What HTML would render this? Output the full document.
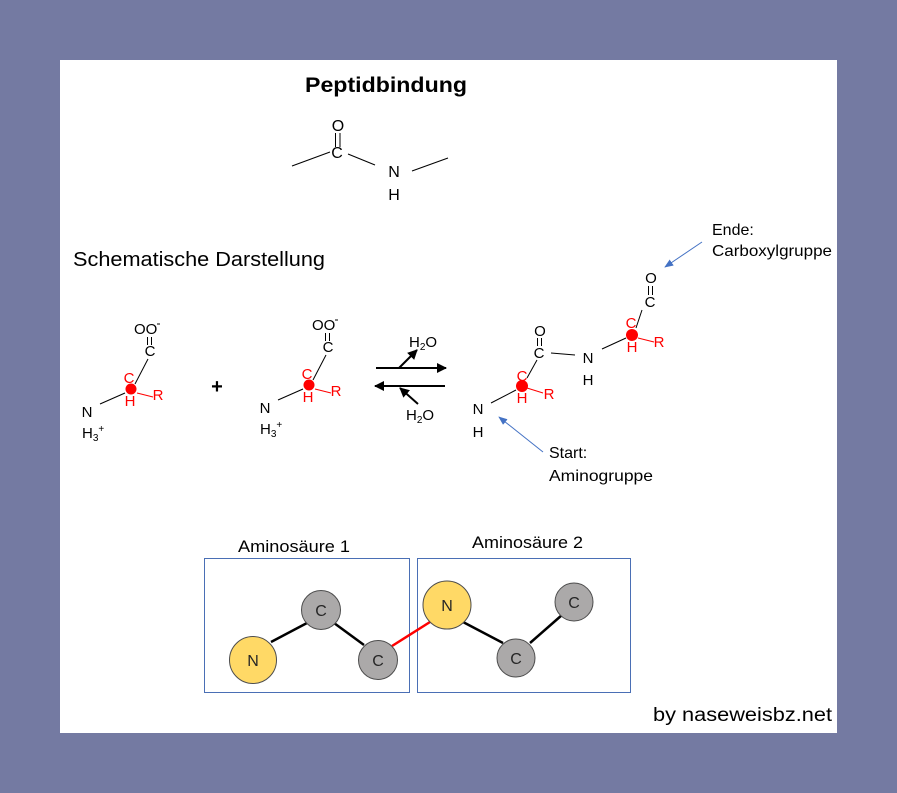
<!DOCTYPE html>
<html><head><meta charset="utf-8"><style>
html,body{margin:0;padding:0;background:#747aa2;}
svg{display:block;}
text{font-family:"Liberation Sans",sans-serif;}
</style></head><body>
<svg width="897" height="793" viewBox="0 0 897 793" xmlns="http://www.w3.org/2000/svg">
<defs>
<marker id="ab" viewBox="0 0 10 10" refX="9" refY="5" markerWidth="5" markerHeight="5" orient="auto"><path d="M0,0 L10,5 L0,10 z" fill="#000"/></marker>
<marker id="abl" viewBox="0 0 10 10" refX="9" refY="5" markerWidth="9" markerHeight="9" orient="auto"><path d="M0,1 L10,5 L0,9 z" fill="#4472c4"/></marker>
</defs>
<rect x="0" y="0" width="897" height="793" fill="#747aa2"/>
<rect x="60" y="60" width="777" height="673" fill="#fff"/>

<!-- Title -->
<text x="305" y="92" font-size="21" font-weight="bold" textLength="162" lengthAdjust="spacingAndGlyphs" fill="#000">Peptidbindung</text>

<!-- Peptide bond structure -->
<g font-size="16" fill="#000" text-anchor="middle">
<text x="338" y="131">O</text>
<text x="337" y="158">C</text>
<text x="394" y="177">N</text>
<text x="394" y="200">H</text>
</g>
<g stroke="#000" stroke-width="1">
<line x1="335.5" y1="133" x2="335.5" y2="147"/>
<line x1="340" y1="133" x2="340" y2="147"/>
<line x1="292" y1="166" x2="330" y2="152"/>
<line x1="348" y1="154" x2="375" y2="165"/>
<line x1="412" y1="171" x2="448" y2="158"/>
</g>

<text x="73" y="266" font-size="20" textLength="252" lengthAdjust="spacingAndGlyphs" fill="#000">Schematische Darstellung</text>

<!-- Amino acid 1 -->
<g id="aa1">
<text x="134" y="334" font-size="15" fill="#000">OO</text>
<line x1="157" y1="324" x2="160" y2="324" stroke="#000" stroke-width="1"/>
<g stroke="#000" stroke-width="1">
<line x1="147.5" y1="337" x2="147.5" y2="345"/>
<line x1="151.5" y1="337" x2="151.5" y2="345"/>
<line x1="148" y1="359" x2="135" y2="384"/>
<line x1="100" y1="404" x2="125" y2="393"/>
</g>
<text x="150" y="356" font-size="15" text-anchor="middle" fill="#000">C</text>
<text x="129" y="383" font-size="15" text-anchor="middle" fill="#ff0000">C</text>
<circle cx="131" cy="389" r="5.5" fill="#ff0000"/>
<text x="130" y="406" font-size="15" text-anchor="middle" fill="#ff0000">H</text>
<line x1="137" y1="393" x2="153" y2="397" stroke="#ff0000" stroke-width="1"/>
<text x="158" y="400" font-size="15" text-anchor="middle" fill="#ff0000">R</text>
<text x="87" y="417" font-size="15" text-anchor="middle" fill="#000">N</text>
<text x="82" y="438" font-size="15" fill="#000">H<tspan font-size="10" dy="3">3</tspan><tspan font-size="10" dy="-9">+</tspan></text>
</g>

<text x="217" y="393" font-size="20" font-weight="bold" text-anchor="middle" fill="#000">+</text>

<!-- Amino acid 2 -->
<g transform="translate(178,-4)">
<text x="134" y="334" font-size="15" fill="#000">OO</text>
<line x1="157" y1="324" x2="160" y2="324" stroke="#000" stroke-width="1"/>
<g stroke="#000" stroke-width="1">
<line x1="147.5" y1="337" x2="147.5" y2="345"/>
<line x1="151.5" y1="337" x2="151.5" y2="345"/>
<line x1="148" y1="359" x2="135" y2="384"/>
<line x1="100" y1="404" x2="125" y2="393"/>
</g>
<text x="150" y="356" font-size="15" text-anchor="middle" fill="#000">C</text>
<text x="129" y="383" font-size="15" text-anchor="middle" fill="#ff0000">C</text>
<circle cx="131" cy="389" r="5.5" fill="#ff0000"/>
<text x="130" y="406" font-size="15" text-anchor="middle" fill="#ff0000">H</text>
<line x1="137" y1="393" x2="153" y2="397" stroke="#ff0000" stroke-width="1"/>
<text x="158" y="400" font-size="15" text-anchor="middle" fill="#ff0000">R</text>
<text x="87" y="417" font-size="15" text-anchor="middle" fill="#000">N</text>
<text x="82" y="438" font-size="15" fill="#000">H<tspan font-size="10" dy="3">3</tspan><tspan font-size="10" dy="-9">+</tspan></text>
</g>

<!-- Equilibrium arrows -->
<g stroke="#000" stroke-width="2" fill="none">
<line x1="376" y1="368" x2="446" y2="368" marker-end="url(#ab)"/>
<line x1="399" y1="368" x2="417" y2="350" marker-end="url(#ab)"/>
<line x1="445" y1="386" x2="375" y2="386" marker-end="url(#ab)"/>
<line x1="418" y1="404" x2="400" y2="388" marker-end="url(#ab)"/>
</g>
<text x="409" y="347" font-size="15" fill="#000">H<tspan font-size="10" dy="3">2</tspan><tspan dy="-3">O</tspan></text>
<text x="406" y="420" font-size="15" fill="#000">H<tspan font-size="10" dy="3">2</tspan><tspan dy="-3">O</tspan></text>

<!-- Dipeptide -->
<g font-size="15" text-anchor="middle">
<text x="651" y="283" fill="#000">O</text>
<text x="650" y="307" fill="#000">C</text>
<text x="631" y="328" fill="#ff0000">C</text>
<text x="632" y="352" fill="#ff0000">H</text>
<text x="659" y="347" fill="#ff0000">R</text>
<text x="588" y="363" fill="#000">N</text>
<text x="588" y="385" fill="#000">H</text>
<text x="540" y="336" fill="#000">O</text>
<text x="539" y="358" fill="#000">C</text>
<text x="522" y="381" fill="#ff0000">C</text>
<text x="522" y="403" fill="#ff0000">H</text>
<text x="549" y="399" fill="#ff0000">R</text>
<text x="478" y="414" fill="#000">N</text>
<text x="478" y="437" fill="#000">H</text>
</g>
<g stroke="#000" stroke-width="1">
<line x1="648.5" y1="286" x2="648.5" y2="295"/>
<line x1="652.5" y1="286" x2="652.5" y2="295"/>
<line x1="642" y1="310" x2="636" y2="328"/>
<line x1="602" y1="349" x2="626" y2="338"/>
<line x1="551" y1="353" x2="575" y2="355"/>
<line x1="537.5" y1="338" x2="537.5" y2="346"/>
<line x1="541.5" y1="338" x2="541.5" y2="346"/>
<line x1="537" y1="360" x2="527" y2="378"/>
<line x1="491" y1="403" x2="516" y2="390"/>
</g>
<circle cx="632" cy="335" r="6" fill="#ff0000"/>
<circle cx="522" cy="386" r="6" fill="#ff0000"/>
<g stroke="#ff0000" stroke-width="1">
<line x1="638" y1="338" x2="654" y2="342"/>
<line x1="527" y1="388" x2="543" y2="393"/>
</g>
<g stroke="#4472c4" stroke-width="1">
<line x1="702" y1="242" x2="665" y2="267" marker-end="url(#abl)"/>
<line x1="543" y1="452" x2="499" y2="417" marker-end="url(#abl)"/>
</g>
<text x="712" y="235" font-size="16" fill="#000">Ende:</text>
<text x="712" y="256" font-size="16" textLength="120" lengthAdjust="spacingAndGlyphs" fill="#000">Carboxylgruppe</text>
<text x="549" y="458" font-size="16" fill="#000">Start:</text>
<text x="549" y="481" font-size="16" textLength="104" lengthAdjust="spacingAndGlyphs" fill="#000">Aminogruppe</text>

<!-- Bottom schematic -->
<text x="238" y="552" font-size="17" textLength="112" lengthAdjust="spacingAndGlyphs" fill="#000">Aminosäure 1</text>
<text x="472" y="548" font-size="17" textLength="111" lengthAdjust="spacingAndGlyphs" fill="#000">Aminosäure 2</text>
<rect x="204.5" y="558.5" width="205" height="134" fill="none" stroke="#4a6fb5" stroke-width="1"/>
<rect x="417.5" y="558.5" width="213" height="134" fill="none" stroke="#4a6fb5" stroke-width="1"/>
<g stroke="#000" stroke-width="2.5">
<line x1="271" y1="642" x2="307" y2="623"/>
<line x1="334" y1="623" x2="364" y2="645"/>
<line x1="463" y1="622" x2="503" y2="643"/>
<line x1="530" y1="643" x2="562" y2="615"/>
</g>
<line x1="392" y1="646" x2="430" y2="622" stroke="#ff0000" stroke-width="2.5"/>
<g stroke="#4d4d4d" stroke-width="1">
<circle cx="253" cy="660" r="23.5" fill="#ffd966"/>
<circle cx="321" cy="610" r="19.5" fill="#aba9a9"/>
<circle cx="378" cy="660" r="19.5" fill="#aba9a9"/>
<circle cx="447" cy="605" r="24" fill="#ffd966"/>
<circle cx="516" cy="658" r="19" fill="#aba9a9"/>
<circle cx="574" cy="602" r="19" fill="#aba9a9"/>
</g>
<g font-size="16" text-anchor="middle" fill="#262626">
<text x="253" y="666">N</text>
<text x="321" y="616">C</text>
<text x="378" y="666">C</text>
<text x="447" y="611">N</text>
<text x="516" y="664">C</text>
<text x="574" y="608">C</text>
</g>

<text x="653" y="721" font-size="19" textLength="179" lengthAdjust="spacingAndGlyphs" fill="#000">by naseweisbz.net</text>
</svg>
</body></html>
